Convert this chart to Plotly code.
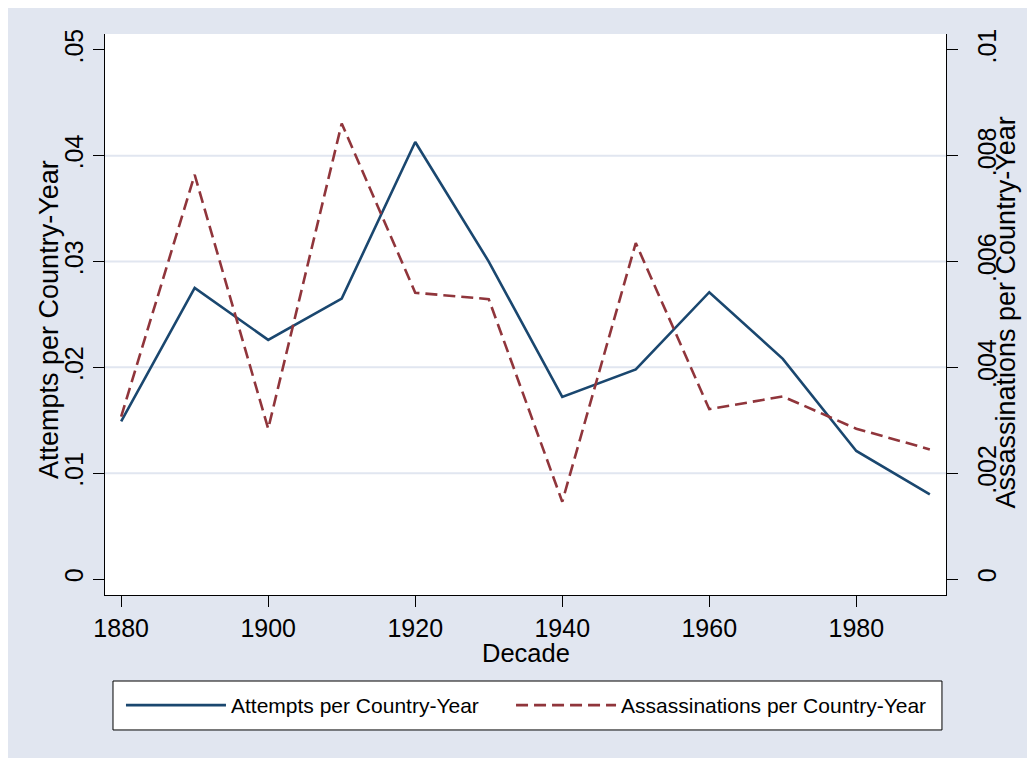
import plotly.graph_objects as go

decades = [1880, 1890, 1900, 1910, 1920, 1930, 1940, 1950, 1960, 1970, 1980, 1990]
attempts = [0.0149, 0.0275, 0.0226, 0.0265, 0.0413, 0.0300, 0.0172, 0.0198, 0.0271, 0.0208, 0.0121, 0.0080]
assassinations = [0.00307, 0.00764, 0.00284, 0.00861, 0.00541, 0.00529, 0.00146, 0.00635, 0.00321, 0.00345, 0.00284, 0.00245]

x_ticks = [1880, 1900, 1920, 1940, 1960, 1980]
y_ticks = [0, 0.01, 0.02, 0.03, 0.04, 0.05]
y_ticktext = ["0", ".01", ".02", ".03", ".04", ".05"]
y2_ticks = [0, 0.002, 0.004, 0.006, 0.008, 0.01]
y2_ticktext = ["0", ".002", ".004", ".006", ".008", ".01"]
grid_vals = [0.01, 0.02, 0.03, 0.04]

BG = "#E1E6F0"
NAVY = "#1A476F"
MAROON = "#90353B"
FONT = "Liberation Sans, Arial, sans-serif"

fig = go.Figure()
fig.add_trace(go.Scatter(x=decades, y=attempts, mode="lines", name="Attempts per Country-Year",
                         line=dict(color=NAVY, width=2.6), yaxis="y", legend="legend"))
fig.add_trace(go.Scatter(x=decades, y=assassinations, mode="lines", name="Assassinations per Country-Year",
                         line=dict(color=MAROON, width=2.6, dash="12px,6px"), yaxis="y2", legend="legend2"))

shapes = [
    # light graph region
    dict(type="rect", xref="paper", yref="paper", x0=-0.1189, x1=1.2, y0=-0.2906, y1=1.0481,
         fillcolor=BG, line=dict(width=0), layer="below"),
    # legend box
    dict(type="rect", xref="paper", yref="paper", x0=0.0095, x1=0.9952, y0=-0.2406, y1=-0.1533,
         fillcolor="white", line=dict(color="black", width=1), layer="below"),
    # white plot region
    dict(type="rect", xref="x domain", yref="y domain", x0=0, x1=1, y0=0, y1=1,
         fillcolor="white", line=dict(width=0), layer="below"),
]
for g in grid_vals:
    shapes.append(dict(type="line", xref="x domain", yref="y", x0=0, x1=1, y0=g, y1=g,
                       line=dict(color=BG, width=2), layer="below"))

annotations = [
    dict(text="Attempts per Country-Year", xref="paper", yref="paper", x=-0.0666, y=0.492,
         textangle=-90, showarrow=False, font=dict(size=27, family=FONT, color="black"),
         xanchor="center", yanchor="middle"),
    dict(text="Assassinations per Country-Year", xref="paper", yref="paper", x=1.0714, y=0.5036,
         textangle=-90, showarrow=False, font=dict(size=27, family=FONT, color="black"),
         xanchor="center", yanchor="middle"),
    dict(text="Decade", xref="paper", yref="paper", x=0.5006, y=-0.1035,
         showarrow=False, font=dict(size=25.5, family=FONT, color="black"),
         xanchor="center", yanchor="middle"),
]

legend_common = dict(orientation="h", yanchor="middle", y=-0.197,
                     bgcolor="rgba(0,0,0,0)", borderwidth=0,
                     font=dict(family=FONT, size=21, color="black"), itemwidth=100)

ylo, yhi = -0.00151, 0.0515
# page is offset by the 8px body margin, so margins are reduced by 8px
fig.update_layout(
    width=1035, height=759,
    margin=dict(l=97, r=97, t=26, b=172),
    paper_bgcolor="white", plot_bgcolor="white",
    font=dict(family=FONT, color="black", size=25),
    shapes=shapes,
    annotations=annotations,
    showlegend=True,
    legend=dict(x=0.019, xanchor="left", **legend_common),
    legend2=dict(x=0.4828, xanchor="left", **legend_common),
    xaxis=dict(range=[1877.8, 1992.2], tickvals=x_ticks, ticks="outside", ticklen=11,
               tickcolor="black", tickwidth=1, showline=True, linecolor="black", linewidth=1,
               showgrid=False, zeroline=False, tickfont=dict(size=25), automargin=False),
    yaxis=dict(range=[ylo, yhi], tickvals=y_ticks, ticktext=y_ticktext, tickangle=-90,
               ticks="outside", ticklen=11, tickcolor="black", tickwidth=1,
               showline=True, linecolor="black", linewidth=1, showgrid=False, zeroline=False,
               tickfont=dict(size=25), ticklabelstandoff=0, automargin=False),
    yaxis2=dict(range=[ylo / 5, yhi / 5], tickvals=y2_ticks, ticktext=y2_ticktext, tickangle=-90,
                overlaying="y", side="right",
                ticks="outside", ticklen=11, tickcolor="black", tickwidth=1,
                showline=True, linecolor="black", linewidth=1, showgrid=False, zeroline=False,
                tickfont=dict(size=25), ticklabelstandoff=8, automargin=False),
)

fig.write_html("out.html")
